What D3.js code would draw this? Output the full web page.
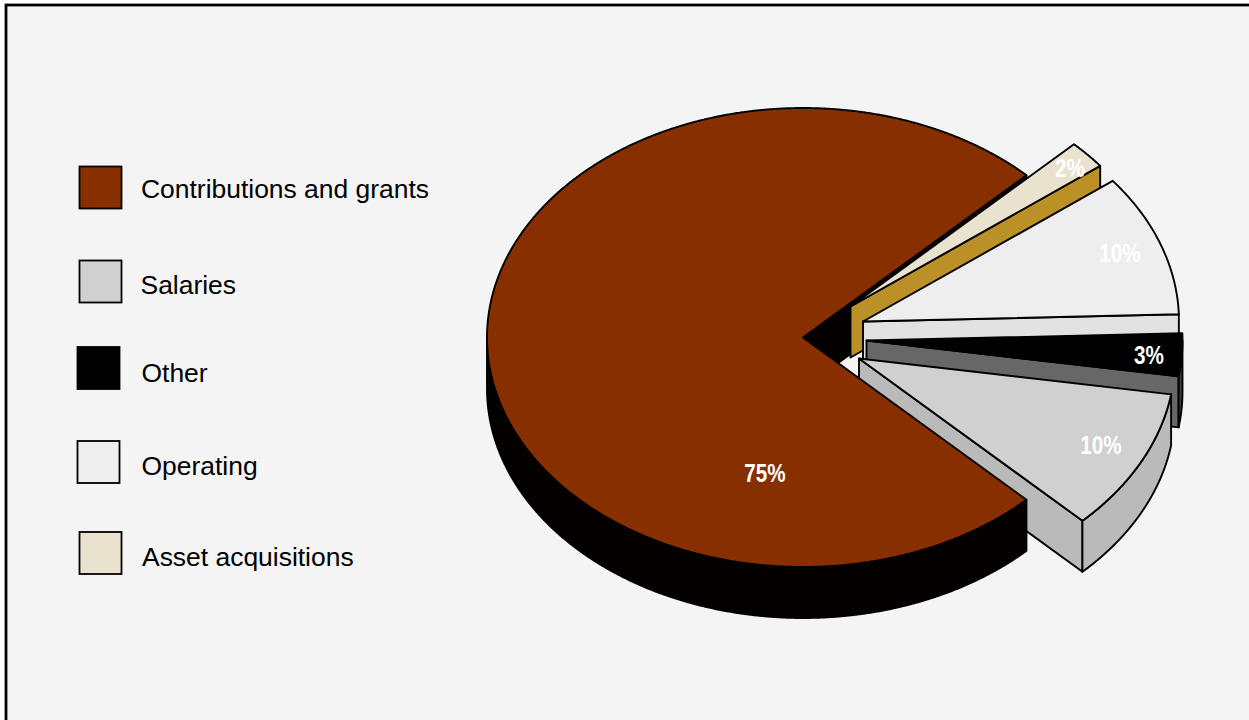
<!DOCTYPE html>
<html>
<head>
<meta charset="utf-8">
<style>
  html, body { margin: 0; padding: 0; background: #fff; overflow: hidden; }
  svg { display: block; }
  text { font-family: "Liberation Sans", Arial, sans-serif; }
</style>
<script src="https://cdn.jsdelivr.net/npm/d3@7"></script>
</head>
<body>
<svg id="chart" width="1249" height="720"></svg>
<script>
// Categories and percentage shares, in legend order
const categories = ["Contributions and grants", "Salaries", "Other", "Operating", "Asset acquisitions"];
const shares = [75, 10, 3, 10, 2];
const shareLabels = ["75%", "10%", "3%", "10%", "2%"];

// Colours per category: top face, cut face, outer wall
const topColors = ["#882f00", "#d0d0d0", "#000000", "#eeeeee", "#e9e2cf"];
const cutColors = ["#050000", "#bababa", "#676767", "#e2e2e2", "#bb9127"];
const wallColors = ["#050000", "#bababa", "#3c3c3c", "#e2e2e2", "#bb9127"];
const swatchColors = ["#882f00", "#d0d0d0", "#000000", "#efefef", "#e9e2cf"];

// How far each slice is pulled out of the pie
const explodeX = [0, 56, 63.5, 60, 47.5];
const explodeY = [0, 21, 3, -16, -31];

// Layout of the text and legend
const labelX = [765, 1101, 1149, 1120, 1070];
const labelY = [482, 454, 364, 262, 177];
const swatchX = [79.5, 79.5, 77.5, 77.5, 79.5];
const swatchY = [166.5, 260.5, 347, 441, 532];
const legendTextX = [141, 140.5, 141.5, 141.5, 142];
const legendTextY = [198, 294, 382, 475, 565.5];

const cx = 803, cy = 337.5, rx = 316, ry = 229.5, depth = 51;
const svg = d3.select("#chart");

// Frame: the panel runs off the right and bottom of the page
svg.append("rect")
  .attr("x", 6).attr("y", 5).attr("width", 1400).attr("height", 900)
  .attr("fill", "#f4f4f4").attr("stroke", "#000").attr("stroke-width", 2.8);

// Legend
categories.forEach((name, i) => {
  svg.append("rect")
    .attr("x", swatchX[i]).attr("y", swatchY[i]).attr("width", 42).attr("height", 42)
    .attr("fill", swatchColors[i]).attr("stroke", "#000").attr("stroke-width", 1.8);
  svg.append("text")
    .attr("x", legendTextX[i]).attr("y", legendTextY[i])
    .attr("font-size", 26.45).attr("fill", "#000").text(name);
});

// Slices run counter-clockwise from the upper right, as the legend lists them
const pie = d3.pie().sort(null).startAngle(Math.PI / 4).endAngle(Math.PI / 4 - 2 * Math.PI);
const arcs = pie(shares);

// Oblique projection of a rim angle (0 = up, clockwise positive)
const rimX = d3.scaleLinear().domain([-1, 1]).range([cx - rx, cx + rx]);
const rimY = d3.scaleLinear().domain([-1, 1]).range([cy - ry, cy + ry]);
const project = (a, i, drop) => [
  rimX(Math.sin(a)) + explodeX[i],
  rimY(-Math.cos(a)) + explodeY[i] + drop
];
const outline = d3.line();
const rimAngles = d => {
  const n = Math.max(2, Math.ceil((d.startAngle - d.endAngle) * 240));
  return d3.range(n + 1).map(k => d.endAngle + (d.startAngle - d.endAngle) * k / n);
};
const paint = (points, fill) => svg.append("path")
  .attr("d", outline(points) + "Z")
  .attr("fill", fill).attr("stroke", "#000")
  .attr("stroke-width", 1.9).attr("stroke-linejoin", "round");

function cutFace(d, i) {
  const a = d.startAngle;
  paint([project(a, i, 0), [explodeX[i] + cx, explodeY[i] + cy],
         [explodeX[i] + cx, explodeY[i] + cy + depth], project(a, i, depth)], cutColors[i]);
}
function outerWall(d, i) {
  const front = rimAngles(d).filter(a => Math.cos(a) <= 0);
  if (front.length < 2) return;
  paint(front.map(a => project(a, i, 0))
    .concat(front.slice().reverse().map(a => project(a, i, depth))), wallColors[i]);
}
function topFace(d, i) {
  paint([[explodeX[i] + cx, explodeY[i] + cy]].concat(rimAngles(d).map(a => project(a, i, 0))), topColors[i]);
}

// Back to front: main cut face, the pulled-out slices, then the main slice
cutFace(arcs[0], 0);
[4, 3, 2, 1].forEach(i => {
  cutFace(arcs[i], i);
  outerWall(arcs[i], i);
  topFace(arcs[i], i);
});
outerWall(arcs[0], 0);
topFace(arcs[0], 0);

// Percentage labels
shareLabels.forEach((label, i) => {
  svg.append("text")
    .attr("transform", `translate(${labelX[i]},${labelY[i]}) scale(0.78,1)`)
    .attr("text-anchor", "middle")
    .attr("font-size", 26.5).attr("font-weight", "bold").attr("fill", "#fff")
    .text(label);
});
</script>
</body>
</html>
